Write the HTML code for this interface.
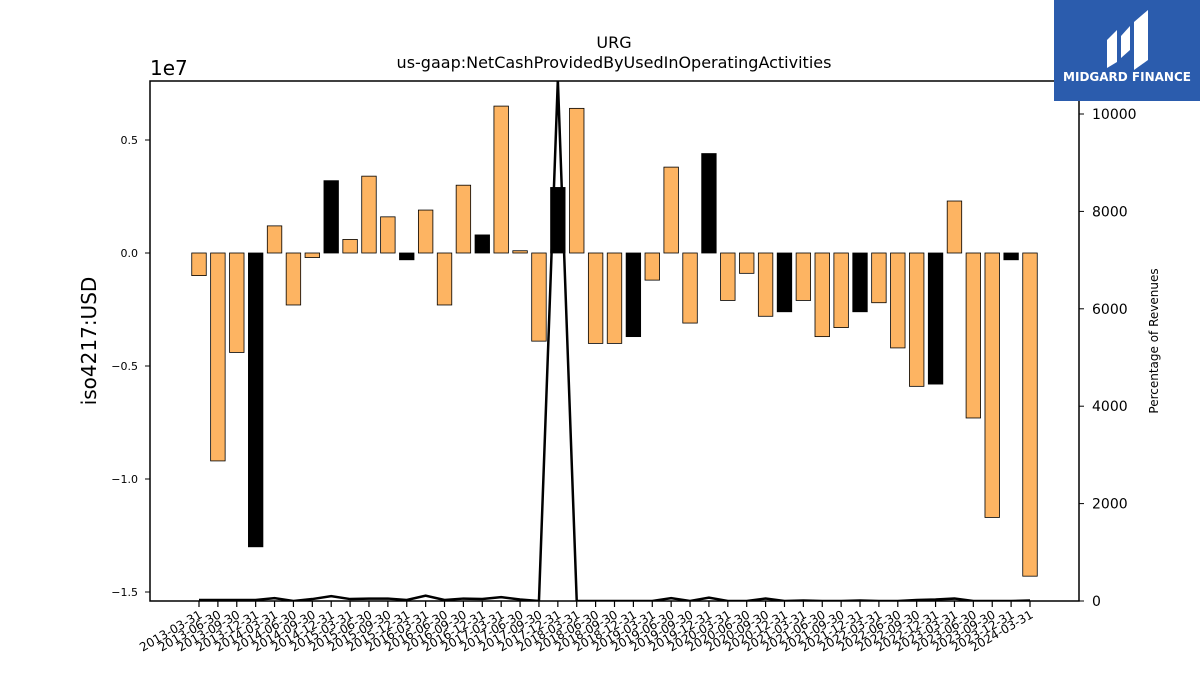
<!DOCTYPE html>
<html><head><meta charset="utf-8"><style>
body{margin:0;background:#fff;font-family:"Liberation Sans","DejaVu Sans",sans-serif}
</style></head><body>
<svg id="chart" width="1200" height="675" xmlns="http://www.w3.org/2000/svg" style="font-family:'DejaVu Sans','Liberation Sans',sans-serif">
<text x="614" y="48" text-anchor="middle" font-size="16">URG</text>
<text x="614" y="68" text-anchor="middle" font-size="16">us-gaap:NetCashProvidedByUsedInOperatingActivities</text>
<text x="150" y="75" font-size="20">1e7</text>
<text transform="translate(96,341) rotate(-90)" text-anchor="middle" font-size="20">iso4217:USD</text>
<text transform="translate(1158,341) rotate(-90)" text-anchor="middle" font-size="12">Percentage of Revenues</text>
<g id="bars"></g><g id="axes"></g>
<rect x="1054" y="0" width="146" height="101" fill="#2b5cad"/>
<g fill="#fff"><path d="M1107 68 L1107 40 L1117 30 L1117 62 Z"/><path d="M1121 58 L1121 36 L1130 26 L1130 50 Z"/><path d="M1134 70 L1134 22 L1148 10 L1148 60 Z"/></g>
<text x="1127" y="81" text-anchor="middle" font-size="12" font-weight="bold" fill="#fff">MIDGARD FINANCE</text>
</svg>
<script>
const categories=["2013-03-31","2013-06-30","2013-09-30","2013-12-31","2014-03-31","2014-06-30","2014-09-30","2014-12-31","2015-03-31","2015-06-30","2015-09-30","2015-12-31","2016-03-31","2016-06-30","2016-09-30","2016-12-31","2017-03-31","2017-06-30","2017-09-30","2017-12-31","2018-03-31","2018-06-30","2018-09-30","2018-12-31","2019-03-31","2019-06-30","2019-09-30","2019-12-31","2020-03-31","2020-06-30","2020-09-30","2020-12-31","2021-03-31","2021-06-30","2021-09-30","2021-12-31","2022-03-31","2022-06-30","2022-09-30","2022-12-31","2023-03-31","2023-06-30","2023-09-30","2023-12-31","2024-03-31"];
const cashValues=[-0.10,-0.92,-0.44,-1.30,0.12,-0.23,-0.02,0.32,0.06,0.34,0.16,-0.03,0.19,-0.23,0.30,0.08,0.65,0.01,-0.39,0.29,0.64,-0.40,-0.40,-0.37,-0.12,0.38,-0.31,0.44,-0.21,-0.09,-0.28,-0.26,-0.21,-0.37,-0.33,-0.26,-0.22,-0.42,-0.59,-0.58,0.23,-0.73,-1.17,-0.03,-1.43];
const pctValues=[20,20,20,20,60,0,40,100,40,50,50,20,110,20,50,40,80,30,0,10700,0,0,0,0,0,60,0,70,0,0,50,0,10,0,0,10,0,0,20,30,50,0,0,0,10];
const yTicks=[0.5,0.0,-0.5,-1.0,-1.5];
const yTickLabels=["0.5","0.0","\u22120.5","\u22121.0","\u22121.5"];
const y2Ticks=[0,2000,4000,6000,8000,10000];
const NS="http://www.w3.org/2000/svg";
const L=150,R=1079,T=81,B=601;
const x=i=>199+i*(1030-199)/(categories.length-1);
const y=v=>253-v*226;
const y2=v=>601-v*(487/10000);
const bw=14.5;
const bars=document.getElementById('bars'),axes=document.getElementById('axes');
function mk(tag,attrs,parent){const e=document.createElementNS(NS,tag);for(const k in attrs)e.setAttribute(k,attrs[k]);parent.appendChild(e);return e;}
cashValues.forEach((v,i)=>{
 const top=Math.min(y(v),y(0)),h=Math.abs(y(v)-y(0));
 const black=(i%4===3);
 const r=mk('rect',{x:x(i)-bw/2,y:top,width:bw,height:h,fill:black?'#000':'#fdb462',stroke:'#000','stroke-width':0.8},bars);
 
 
});
const clipD=mk('clipPath',{id:'pc'},axes);mk('rect',{x:L,y:T,width:R-L,height:B-T},clipD);
const pl=mk('polyline',{points:pctValues.map((v,i)=>x(i)+','+y2(v)).join(' '),fill:'none',stroke:'#000','stroke-width':2.5,'clip-path':'url(#pc)'},axes);


const fr=mk('rect',{x:L,y:T,width:R-L,height:B-T,fill:'none',stroke:'#000','stroke-width':1.5},axes);


yTicks.forEach((t,i)=>{
 mk('line',{x1:L-5,x2:L,y1:y(t),y2:y(t),stroke:'#000'},axes);
 const tx=mk('text',{x:L-12,y:y(t)+4,'text-anchor':'end','font-size':11},axes);tx.textContent=yTickLabels[i];
 
 
});
y2Ticks.forEach(t=>{
 mk('line',{x1:R,x2:R+5,y1:y2(t),y2:y2(t),stroke:'#000'},axes);
 const tx=mk('text',{x:R+13,y:y2(t)+5,'font-size':14},axes);tx.textContent=t;
 
 
});
categories.forEach((c,i)=>{
 mk('line',{x1:x(i),x2:x(i),y1:B,y2:B+6,stroke:'#000','stroke-width':1.2},axes);
 const tx=mk('text',{transform:`translate(${x(i)+4},${B+16}) rotate(-30)`,'text-anchor':'end','font-size':12},axes);tx.textContent=c;
 
 
});
</script>
</body></html>
